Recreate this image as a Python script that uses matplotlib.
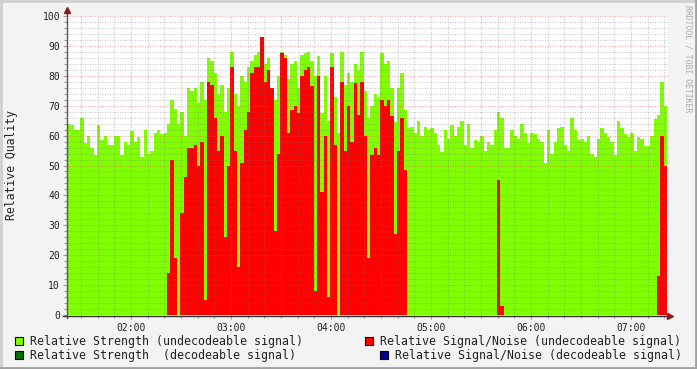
import matplotlib.pyplot as plt
from matplotlib.lines import Line2D
from matplotlib.patches import Rectangle
import numpy as np

# relative strength (undecodeable signal), one value per 2-minute step from 01:21.6
strength = [
    64, 63.5, 62, 62, 66, 57.5, 60, 56, 53.5, 63.5, 58.5, 60, 57, 57, 60, 60, 53.5, 58, 57, 61.5,
    58, 59.5, 53, 62, 54, 55, 61, 62, 60.5, 61,
    64, 72, 69, 64, 68, 60, 76, 75, 76, 71, 78, 72, 86, 85, 81, 74, 77, 68, 76, 88, 74, 70, 80, 78, 83,
    85, 87, 88, 88, 84, 86, 68, 72, 80, 88, 87, 79, 84, 85, 76, 87, 87.5, 88, 85, 80, 86.5, 67.5, 80, 65, 87.5,
    73, 61, 88, 77, 81, 78, 84, 82, 88, 75, 66, 70, 74, 72.5, 87.5, 84, 85, 76, 64.5, 76, 81, 68.5, 62.5,
    63, 61,
    65, 60, 63, 62, 62.5, 61, 57, 54.5, 62, 59, 63.5, 60, 63, 65, 57, 64, 56, 58.5, 58, 60,
    55, 58, 57, 62, 68, 66, 56, 56, 62, 60, 59, 64, 61, 57.5, 61, 60.5,
    59, 58, 51, 62, 54, 58, 62.5, 63, 57, 55, 66, 62, 58.5, 59, 58, 60, 54, 53, 59, 62.5,
    61, 59.5, 58, 53.5, 65, 62.5, 60.5, 59.5, 61, 55, 59.5, 59, 56.5, 56.5, 60, 65.5, 67, 78, 70,
]

# relative signal/noise (undecodeable signal)
snr = [
    0, 0, 0, 0, 0, 0, 0, 0, 0, 0, 0, 0, 0, 0, 0, 0, 0, 0, 0, 0,
    0, 0, 0, 0, 0, 0, 0, 0, 0, 0,
    14, 52, 19, 0, 34, 46, 56, 56, 57, 50, 58, 5, 78, 77, 66, 55, 60, 26, 50, 83, 55, 16, 51, 62, 68,
    81, 83, 83, 93, 78, 82, 76, 28, 54, 87.5, 86, 61, 68.5, 70, 67.5, 80, 82, 83, 76.5, 8, 80, 41, 60, 6, 83,
    57, 0, 78, 55, 70, 58, 77.5, 67, 78, 60, 19, 53.5, 56, 53.5, 72, 70, 72, 66.5, 27, 55, 66, 48.5, 0,
    0, 0,
    0, 0, 0, 0, 0, 0, 0, 0, 0, 0, 0, 0, 0, 0, 0, 0, 0, 0, 0, 0,
    0, 0, 0, 0, 45, 3, 0, 0, 0, 0, 0, 0, 0, 0, 0, 0,
    0, 0, 0, 0, 0, 0, 0, 0, 0, 0, 0, 0, 0, 0, 0, 0, 0, 0, 0, 0,
    0, 0, 0, 0, 0, 0, 0, 0, 0, 0, 0, 0, 0, 0, 0, 0, 13, 60, 50,
]

hour_ticks = [2, 3, 4, 5, 6, 7]
hour_labels = ["02:00", "03:00", "04:00", "05:00", "06:00", "07:00"]
legend_labels = [
    "Relative Strength (undecodeable signal)",
    "Relative Signal/Noise (undecodeable signal)",
    "Relative Strength  (decodeable signal)",
    "Relative Signal/Noise (decodeable signal)",
]
legend_colors = ["#7fff00", "#ff0000", "#007000", "#000099"]

start_hour = 1.36
step = 2 / 60

plt.rcParams['font.family'] = 'DejaVu Sans Mono'

W, H = 697, 369
fx = lambda px: px / W
fy = lambda py: 1 - py / H

fig = plt.figure(figsize=(6.97, 3.69), dpi=100, facecolor="#f3f3f3")
ax = fig.add_axes([fx(67), fy(315), fx(668) - fx(67), fy(16) - fy(315)])
ax.set_facecolor("white")

x = start_hour + np.arange(len(strength)) * step
ax.bar(x, strength, width=step, align="edge", color="#7fff00", linewidth=0, zorder=1)
ax.bar(x, snr, width=step, align="edge", color="#ff0000", linewidth=0, zorder=2)

ax.set_xlim(1.36, 7.37)
ax.set_ylim(0, 100)

# grid drawn over the areas, like rrdtool (1px on / 1px off)
minor_style = dict(color=(0.45, 0.45, 0.45, 0.4), lw=0.72, ls=(0, (1, 1.5)), zorder=3)
major_style = dict(color=(0.95, 0.3, 0.3, 0.5), lw=0.72, ls=(0, (1, 1.5)), zorder=3)
for v in range(2, 101, 2):
    ax.axhline(v, **(major_style if v % 10 == 0 else minor_style))
for k in range(0, 36):
    h = 1.5 + k / 6
    ax.axvline(h, **(major_style if k % 3 == 0 else minor_style))

for s in ax.spines.values():
    s.set_visible(False)

ax.set_yticks(range(0, 101, 10))
ax.set_yticklabels([str(v) for v in range(0, 101, 10)])
ax.set_yticks(range(0, 101, 2), minor=True)
ax.set_xticks(hour_ticks)
ax.set_xticklabels(hour_labels)
ax.set_xticks([1.5 + k / 6 for k in range(36)], minor=True)
ax.tick_params(axis="both", which="major", labelsize=7, colors="#999999", labelcolor="#222222",
               length=3, width=0.8, pad=2)
ax.tick_params(axis="both", which="minor", colors="#999999", length=2, width=0.8)
ax.tick_params(axis="x", pad=3)

# axis lines with arrow heads
fig.add_artist(Line2D([fx(67), fx(67)], [fy(318), fy(10)], color="#555555", lw=1))
fig.add_artist(Line2D([fx(63), fx(669)], [fy(315.5), fy(315.5)], color="#333333", lw=1))
fig.add_artist(Line2D([fx(67)], [fy(10)], marker="^", markersize=5, color="#8b1a1a", lw=0))
fig.add_artist(Line2D([fx(670)], [fy(315.5)], marker=">", markersize=5, color="#8b1a1a", lw=0))

fig.text(fx(12), fy(165), "Relative Quality", rotation=90, ha="center", va="center",
         fontsize=8.3, color="#222222")
fig.text(fx(688), fy(5), "RRDTOOL / TOBI OETIKER", rotation=270, ha="center", va="top",
         fontsize=5.9, color="#aaaaaa")

# legend
legend_pos = [(15, 341), (365, 341), (15, 355), (380, 355)]
for (px, py), label, col in zip(legend_pos, legend_labels, legend_colors):
    fig.add_artist(Rectangle((fx(px), fy(py + 4)), fx(8), 8 / H, facecolor=col,
                             edgecolor="black", lw=0.8, transform=fig.transFigure))
    fig.text(fx(px + 15), fy(py), label, ha="left", va="center", fontsize=8.4, color="#222222")

# frame
fig.add_artist(Line2D([0, 1], [fy(1), fy(1)], color="#d0d0d0", lw=2))
fig.add_artist(Line2D([fx(1), fx(1)], [0, 1], color="#d0d0d0", lw=2))
fig.add_artist(Line2D([0, 1], [fy(368), fy(368)], color="#a0a0a0", lw=2))
fig.add_artist(Line2D([fx(696), fx(696)], [0, 1], color="#a0a0a0", lw=2))

fig.savefig("out.png", dpi=100, facecolor=fig.get_facecolor())
